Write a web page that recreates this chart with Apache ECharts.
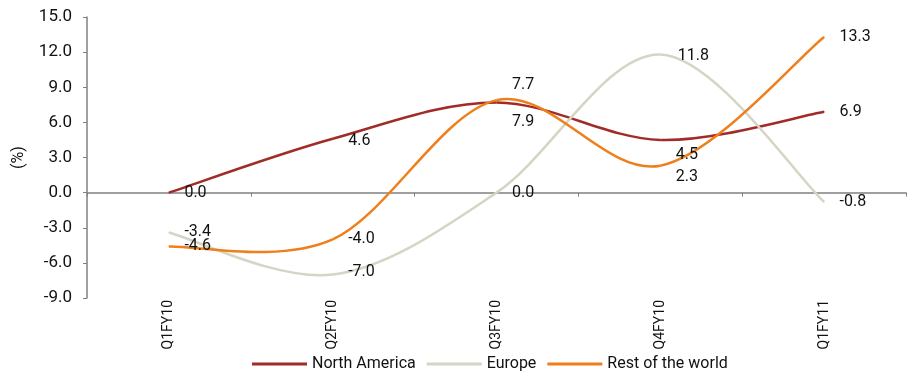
<!DOCTYPE html>
<html>
<head>
    <meta charset="utf-8">
    <title>Regional growth</title>
    <script type="text/javascript" src="https://cdn.jsdelivr.net/npm/echarts@6/dist/echarts.min.js"></script>
    <style type="text/css">
        html, body { margin: 0; padding: 0; background: #fff; }
        #main { width: 916px; height: 376px; }
    </style>
</head>
<body>
    <div id="main"></div>
    <script type="text/javascript">
        // data
        var quarters = ['Q1FY10', 'Q2FY10', 'Q3FY10', 'Q4FY10', 'Q1FY11'];
        var northAmerica = [0.0, 4.6, 7.7, 4.5, 6.9];
        var europe = [-3.4, -7.0, 0.0, 11.8, -0.8];
        var restOfWorld = [-4.6, -4.0, 7.9, 2.3, 13.3];
        var yTicks = { min: -9, max: 15, step: 3 };

        var FONT = 'Roboto, "Liberation Sans Narrow", sans-serif';
        var COLORS = { na: '#a02b27', eu: '#d6d4c4', rw: '#ef7f1a' };

        // label nudges (px), one per point, to sit labels like the original
        var naShift = [[0, 0], [0, 2], [0, -17], [0, 15], [0, 0]];
        var euShift = [[0, 0], [0, -3], [0, 0], [2, 2], [0, 0]];
        var rwShift = [[0, 0], [0, 0], [0, 22], [0, 11], [0, 0]];

        function points(values, shift) {
            return values.map(function (v, i) {
                return { value: v, label: { offset: shift[i] } };
            });
        }

        // carrier series: legend entry + value labels, line itself is hidden
        function labelSeries(name, values, shift, color) {
            return {
                name: name,
                type: 'line',
                xAxisIndex: 0,
                data: points(values, shift),
                symbol: 'circle',
                symbolSize: 1,
                itemStyle: { color: color },
                lineStyle: { color: color, width: 2.5, opacity: 0 },
                z: 5,
                label: {
                    show: true,
                    position: 'right',
                    distance: 15,
                    color: '#111',
                    fontFamily: FONT,
                    fontSize: 16,
                    formatter: function (p) { return p.value.toFixed(1); }
                }
            };
        }

        // smoothed curve like a spreadsheet "smoothed line" (cardinal, 1/6 tangents)
        function curveSeries(values, color) {
            return {
                type: 'custom',
                xAxisIndex: 0,
                yAxisIndex: 0,
                data: [0],
                silent: true,
                z: 2,
                renderItem: function (params, api) {
                    var pts = values.map(function (v, i) { return api.coord([i, v]); });
                    var n = pts.length;
                    var kids = [];
                    for (var i = 0; i < n - 1; i++) {
                        var p0 = pts[Math.max(i - 1, 0)];
                        var p1 = pts[i];
                        var p2 = pts[i + 1];
                        var p3 = pts[Math.min(i + 2, n - 1)];
                        kids.push({
                            type: 'bezierCurve',
                            shape: {
                                x1: p1[0], y1: p1[1],
                                cpx1: p1[0] + (p2[0] - p0[0]) / 6,
                                cpy1: p1[1] + (p2[1] - p0[1]) / 6,
                                cpx2: p2[0] - (p3[0] - p1[0]) / 6,
                                cpy2: p2[1] - (p3[1] - p1[1]) / 6,
                                x2: p2[0], y2: p2[1]
                            },
                            style: { stroke: color, lineWidth: 2.5, fill: null }
                        });
                    }
                    return { type: 'group', children: kids };
                }
            };
        }

        var myChart = echarts.init(document.getElementById('main'));

        var option = {
            animation: false,
            grid: { left: 87, right: 10, top: 17, bottom: 78 },
            legend: {
                top: 351,
                left: 247,
                icon: 'rect',
                itemWidth: 55,
                itemHeight: 3,
                itemGap: 11,
                textStyle: { fontFamily: FONT, fontSize: 16, color: '#111' },
                data: ['North America', 'Europe', 'Rest of the world']
            },
            xAxis: [{
                type: 'category',
                data: quarters,
                position: 'bottom',
                axisLine: { show: false, onZero: false },
                axisTick: { show: false },
                axisLabel: {
                    rotate: 90,
                    margin: 2,
                    color: '#111',
                    fontFamily: FONT,
                    fontSize: 14
                }
            }, {
                type: 'category',
                data: quarters,
                position: 'bottom',
                axisLine: { show: true, onZero: true, onZeroAxisIndex: 0, lineStyle: { color: '#808080', width: 1.5 } },
                axisTick: { show: true, length: 4, lineStyle: { color: '#808080' } },
                axisLabel: { show: false }
            }],
            yAxis: {
                type: 'value',
                min: yTicks.min,
                max: yTicks.max,
                interval: yTicks.step,
                name: '(%)',
                nameLocation: 'middle',
                nameGap: 60,
                nameRotate: 90,
                nameTextStyle: { fontFamily: FONT, fontSize: 16, color: '#111' },
                axisLine: { show: true, lineStyle: { color: '#808080', width: 1.5 } },
                axisTick: { show: true, length: 4, lineStyle: { color: '#808080' } },
                splitLine: { show: false },
                axisLabel: {
                    margin: 15,
                    color: '#111',
                    fontFamily: FONT,
                    fontSize: 17,
                    formatter: function (v) { return v.toFixed(1); }
                }
            },
            series: [
                curveSeries(northAmerica, COLORS.na),
                curveSeries(europe, COLORS.eu),
                curveSeries(restOfWorld, COLORS.rw),
                labelSeries('North America', northAmerica, naShift, COLORS.na),
                labelSeries('Europe', europe, euShift, COLORS.eu),
                labelSeries('Rest of the world', restOfWorld, rwShift, COLORS.rw)
            ]
        };

        myChart.setOption(option);
    </script>
</body>
</html>
